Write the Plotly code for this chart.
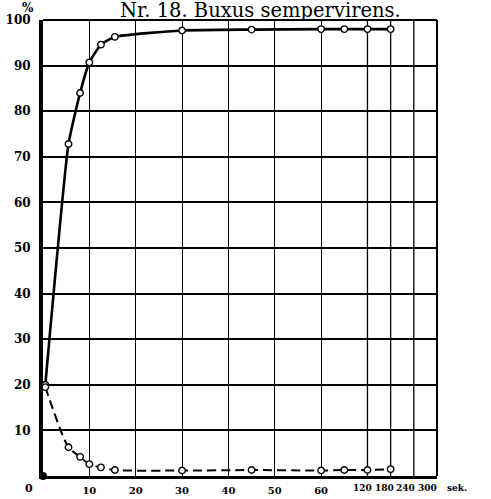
import numpy as np
import plotly.graph_objects as go

# --- data (seconds, percent) ---
time_s = [0.5, 5.5, 8, 10, 12.5, 15.5, 30, 45, 60, 90, 120, 180]
upper_pct = [20.0, 72.8, 84.0, 90.7, 94.6, 96.3, 97.7, 97.9, 98.0, 98.0, 98.0, 98.0]
lower_pct = [19.5, 6.3, 4.2, 2.6, 1.9, 1.3, 1.2, 1.3, 1.2, 1.3, 1.3, 1.5]

y_ticks = [10, 20, 30, 40, 50, 60, 70, 80, 90, 100]
x_ticks_lin = [10, 20, 30, 40, 50, 60]
x_ticks_comp = [120, 180, 240, 300]

# axis scale: linear up to 60 s, compressed afterwards
scale_sec = [0, 60, 120, 300]
scale_pos = [0, 60, 70, 85]


def pos(s):
    return np.interp(s, scale_sec, scale_pos)


FONT_B = "DejaVu Serif"
fig = go.Figure()

fig.add_trace(go.Scatter(
    x=pos(time_s), y=upper_pct, mode="lines+markers",
    line=dict(color="black", width=2.6, shape="spline", smoothing=0.45),
    marker=dict(symbol="circle", size=6.5, color="white", line=dict(color="black", width=1.4)),
    showlegend=False, hoverinfo="skip"))

fig.add_trace(go.Scatter(
    x=pos(time_s), y=lower_pct, mode="lines+markers",
    line=dict(color="black", width=2, dash="9px,5px", shape="spline", smoothing=0.7),
    marker=dict(symbol="circle", size=6.5, color="white", line=dict(color="black", width=1.4)),
    showlegend=False, hoverinfo="skip"))

shapes = [
    dict(type="line", xref="paper", yref="paper", x0=0, x1=1, y0=1, y1=1,
         line=dict(color="black", width=2)),
    dict(type="line", xref="paper", yref="paper", x0=1, x1=1, y0=0, y1=1,
         line=dict(color="black", width=2)),
    dict(type="circle", xref="paper", yref="paper", xsizemode="pixel", ysizemode="pixel",
         xanchor=0, yanchor=0, x0=-4, x1=4, y0=-4, y1=4,
         fillcolor="black", line=dict(color="black", width=0)),
]
for s in x_ticks_comp[:-1]:
    shapes.append(dict(type="line", xref="x", yref="paper", x0=float(pos(s)), x1=float(pos(s)),
                       y0=0, y1=1, line=dict(color="black", width=1.3), layer="below"))

LAB_Y = (476 - 488) / 456
annotations = [
    dict(text="Nr. 18. Buxus sempervirens.", xref="paper", yref="paper",
         x=(260 - 43) / 394, y=(476 - 10) / 456, xanchor="center", yanchor="middle",
         showarrow=False, font=dict(family=FONT_B, size=19.5, color="black")),
    dict(text="<b>%</b>", xref="paper", yref="paper", x=(28 - 43) / 394, y=(476 - 8) / 456,
         xanchor="center", yanchor="middle", showarrow=False,
         font=dict(family=FONT_B, size=12, color="black")),
    dict(text="<b>0</b>", xref="paper", yref="paper", x=(28.5 - 43) / 394, y=LAB_Y,
         xanchor="center", yanchor="middle", showarrow=False,
         font=dict(family=FONT_B, size=11, color="black")),
    dict(text="<b>sek.</b>", xref="paper", yref="paper", x=(457 - 43) / 394, y=LAB_Y,
         xanchor="center", yanchor="middle", showarrow=False,
         font=dict(family=FONT_B, size=9, color="black")),
]
label_shift = [-5, -6, -8, -10]
for s, sh in zip(x_ticks_comp, label_shift):
    annotations.append(dict(text=f"<b>{s}</b>", xref="x", yref="paper", x=float(pos(s)),
                            y=LAB_Y, xshift=sh, xanchor="center", yanchor="middle",
                            showarrow=False, font=dict(family=FONT_B, size=9, color="black")))

fig.update_layout(
    width=491, height=499,
    margin=dict(l=43, r=54, t=20, b=23, autoexpand=False),
    paper_bgcolor="white", plot_bgcolor="white",
    shapes=shapes, annotations=annotations,
    xaxis=dict(range=[0, 85], tickvals=x_ticks_lin, ticktext=[f"<b>{v}</b>" for v in x_ticks_lin],
               showgrid=True, gridcolor="black", gridwidth=1.3, zeroline=False, automargin=False,
               showline=True, linecolor="black", linewidth=3, ticks="",
               tickfont=dict(family=FONT_B, size=10, color="black"), ticklabelstandoff=3),
    yaxis=dict(range=[0, 100], tickvals=y_ticks, ticktext=[f"<b>{v}</b>" for v in y_ticks],
               showgrid=True, gridcolor="black", gridwidth=1.6, zeroline=False, automargin=False,
               showline=True, linecolor="black", linewidth=4, ticks="",
               tickfont=dict(family=FONT_B, size=12, color="black"), ticklabelstandoff=6),
)

fig.write_html("out.html")
